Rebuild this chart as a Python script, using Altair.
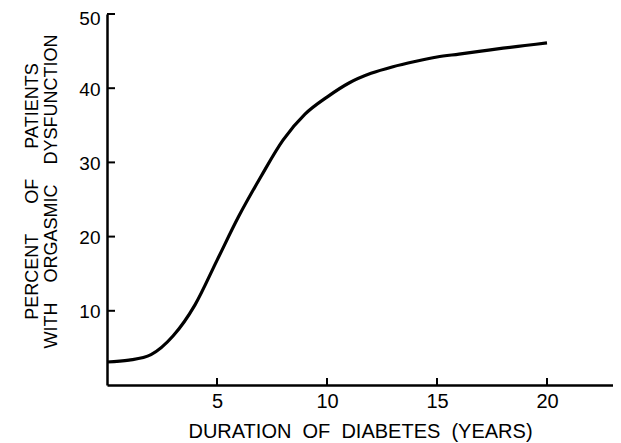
import altair as alt
import pandas as pd

# Data
duration_years = [0, 1, 2, 3, 4, 5, 6, 7, 8, 9, 10, 11, 12, 13, 14, 15, 16, 17, 18, 19, 20]
percent_dysfunction = [3.1, 3.35, 4.1, 6.6, 10.8, 16.8, 22.8, 28.1, 33.0, 36.5, 38.8, 40.7,
                       42.0, 42.9, 43.6, 44.2, 44.6, 45.0, 45.4, 45.75, 46.1]
x_ticks = [5, 10, 15, 20]
y_ticks = [10, 20, 30, 40, 50]

NB = "\u00a0"
x_title = f"DURATION{NB}{NB}OF{NB}{NB}DIABETES{NB}{NB}(YEARS)"
y_title = [
    f"PERCENT{NB * 6}OF{NB * 6}PATIENTS",
    f"WITH{NB * 4}ORGASMIC{NB * 4}DYSFUNCTION",
]

W, H = 506, 371
FONT = "Liberation Sans"

df = pd.DataFrame({"x": duration_years, "y": percent_dysfunction})
xt = pd.DataFrame({"x": x_ticks})
yt = pd.DataFrame({"y": y_ticks})

xscale = alt.Scale(domain=[0, 23], nice=False, zero=False)
yscale = alt.Scale(domain=[0, 50], nice=False, zero=False)

xaxis = alt.Axis(
    values=x_ticks, ticks=False, grid=False, labelPadding=6,
    labelFontSize=20, labelFont=FONT, labelColor="black",
    title=x_title, titleFont=FONT, titleFontSize=20, titleFontWeight="normal",
    titleColor="black", titleBaseline="alphabetic", titleY=52,
    domainColor="black", domainWidth=2.5)
yaxis = alt.Axis(
    values=y_ticks, ticks=False, grid=False, labelPadding=7,
    labelOffset={"condition": {"test": "datum.value === 50", "value": 4.5}, "value": 1},
    labelFontSize=19, labelFont=FONT, labelColor="black",
    title=y_title, titleFont=FONT, titleFontSize=18, titleFontWeight="normal",
    titleColor="black", titleAngle=270, titleBaseline="top", titleAlign="center",
    titleX=-84, titleY=177, titleLineHeight=19,
    domainColor="black", domainWidth=2.5)

line = alt.Chart(df).mark_line(color="black", strokeWidth=3.2, interpolate="monotone").encode(
    x=alt.X("x:Q", scale=xscale, axis=xaxis),
    y=alt.Y("y:Q", scale=yscale, axis=yaxis),
)

xtick_layer = alt.Chart(xt).mark_rule(color="black", strokeWidth=2).encode(
    x=alt.X("x:Q", scale=xscale, axis=xaxis),
    y=alt.value(H),
    y2=alt.value(H - 7),
)

ytick_layer = alt.Chart(yt).mark_rule(color="black", strokeWidth=2).encode(
    y=alt.Y("y:Q", scale=yscale, axis=yaxis),
    x=alt.value(0),
    x2=alt.value(8),
)

chart = alt.layer(line, xtick_layer, ytick_layer).properties(
    width=W,
    height=H,
    autosize="none",
    padding={"left": 99, "top": 6, "right": 0, "bottom": 58},
).configure(background="white").configure_view(stroke=None)

chart.save("out.html", embed_options={"renderer": "svg", "actions": False})
